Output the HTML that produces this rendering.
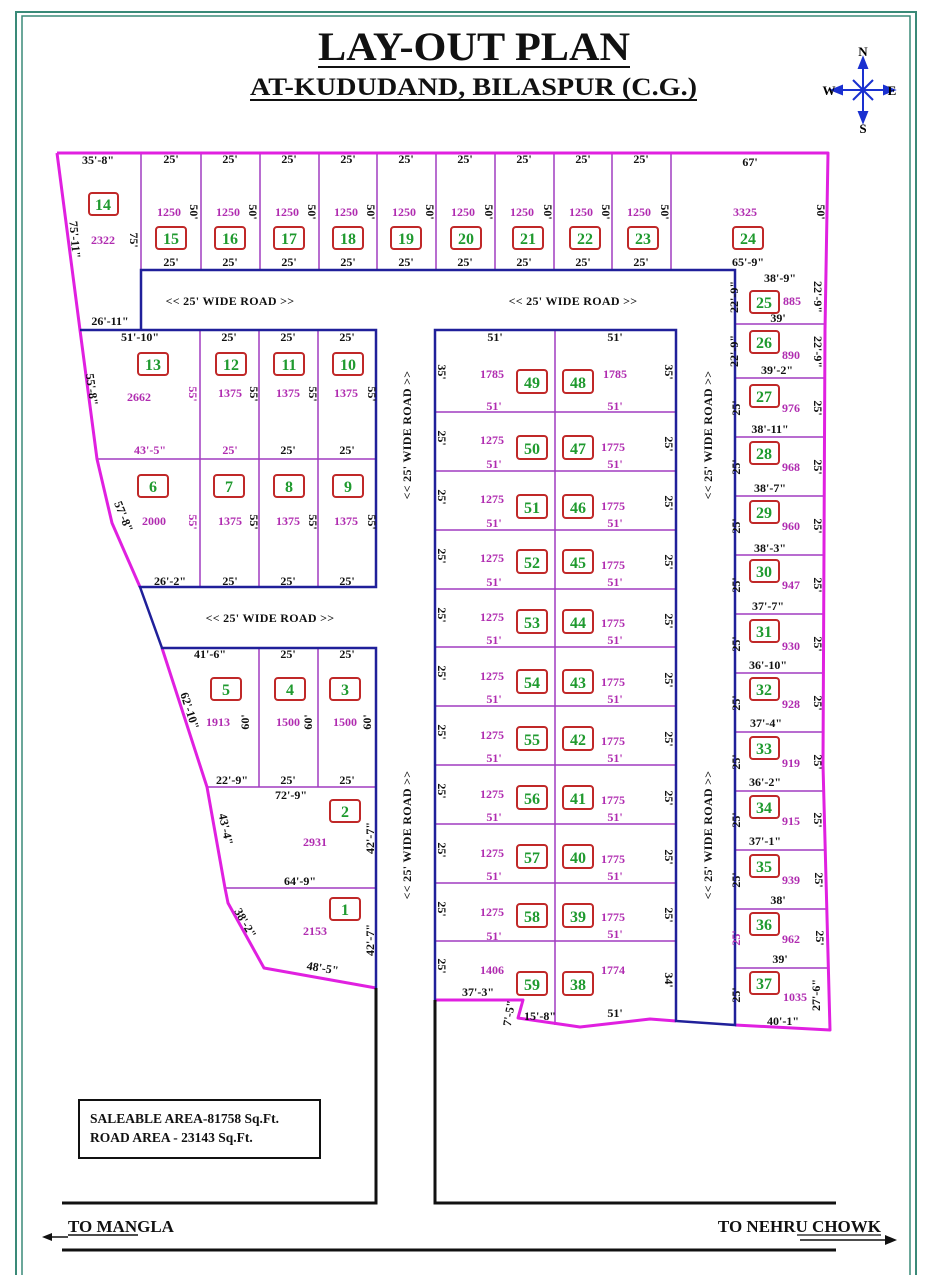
<!DOCTYPE html>
<html><head><meta charset="utf-8"><style>
html,body{margin:0;padding:0;background:#fff}
svg{display:block}
text{font-family:"Liberation Serif",serif;font-weight:bold}
.d{font-size:12px;fill:#111;text-anchor:middle}
.a{font-size:12px;fill:#b02cb0;text-anchor:middle}
.n{font-size:16px;fill:#1f9a2f;text-anchor:middle}
.r{font-size:12px;fill:#111;text-anchor:middle;letter-spacing:0.3px}
.b{fill:#fff;stroke:#c02828;stroke-width:2}
</style></head><body>
<svg width="926" height="1275" viewBox="0 0 926 1275" xmlns="http://www.w3.org/2000/svg">
<!-- border -->
<rect x="16" y="12" width="900" height="1290" fill="none" stroke="#3a8a78" stroke-width="2"/>
<rect x="22" y="16" width="888" height="1280" fill="none" stroke="#3a8a78" stroke-width="1.5"/>

<!-- title -->
<text x="318" y="60" textLength="312" lengthAdjust="spacingAndGlyphs" style="font-size:40px;fill:#111">LAY-OUT PLAN</text>
<line x1="318" y1="67" x2="630" y2="67" stroke="#111" stroke-width="2"/>
<text x="250" y="95" textLength="447" lengthAdjust="spacingAndGlyphs" style="font-size:25px;fill:#111">AT-KUDUDAND, BILASPUR  (C.G.)</text>
<line x1="250" y1="100" x2="697" y2="100" stroke="#111" stroke-width="2"/>

<!-- compass -->
<g stroke="#1a30d0" stroke-width="2" fill="#1a30d0">
<line x1="863" y1="62" x2="863" y2="118"/><line x1="836" y1="90" x2="890" y2="90"/>
<line x1="853" y1="80" x2="873" y2="100"/><line x1="873" y1="80" x2="853" y2="100"/>
<polygon points="863,58 859,68 867,68"/><polygon points="863,122 859,112 867,112"/>
<polygon points="832,90 842,86 842,94"/><polygon points="894,90 884,86 884,94"/>
</g>
<text x="863" y="56" style="font-size:13px;text-anchor:middle">N</text>
<text x="863" y="133" style="font-size:13px;text-anchor:middle">S</text>
<text x="829" y="95" style="font-size:13px;text-anchor:middle">W</text>
<text x="892" y="95" style="font-size:13px;text-anchor:middle">E</text>

<!-- plot dividers (thin purple) -->
<g stroke="#a03cc0" stroke-width="1.5" fill="none">
<line x1="141" y1="153" x2="141" y2="270"/>
<line x1="201" y1="153" x2="201" y2="270"/><line x1="260" y1="153" x2="260" y2="270"/>
<line x1="319" y1="153" x2="319" y2="270"/><line x1="377" y1="153" x2="377" y2="270"/>
<line x1="436" y1="153" x2="436" y2="270"/><line x1="495" y1="153" x2="495" y2="270"/>
<line x1="554" y1="153" x2="554" y2="270"/><line x1="612" y1="153" x2="612" y2="270"/>
<line x1="671" y1="153" x2="671" y2="270"/>
<line x1="80" y1="330" x2="141" y2="330"/>
<line x1="200" y1="330" x2="200" y2="587"/><line x1="259" y1="330" x2="259" y2="587"/><line x1="318" y1="330" x2="318" y2="587"/>
<line x1="97" y1="459" x2="376" y2="459"/>
<line x1="259" y1="648" x2="259" y2="787"/><line x1="318" y1="648" x2="318" y2="787"/>
<line x1="207" y1="787" x2="376" y2="787"/><line x1="225" y1="888" x2="376" y2="888"/>
<line x1="555" y1="330" x2="555" y2="1025"/>
<line x1="435" y1="412" x2="676" y2="412"/><line x1="435" y1="471" x2="676" y2="471"/>
<line x1="435" y1="530" x2="676" y2="530"/><line x1="435" y1="589" x2="676" y2="589"/>
<line x1="435" y1="647" x2="676" y2="647"/><line x1="435" y1="706" x2="676" y2="706"/>
<line x1="435" y1="765" x2="676" y2="765"/><line x1="435" y1="824" x2="676" y2="824"/>
<line x1="435" y1="883" x2="676" y2="883"/><line x1="435" y1="941" x2="676" y2="941"/>
<line x1="735" y1="324" x2="825" y2="324"/><line x1="735" y1="378" x2="825" y2="378"/>
<line x1="735" y1="437" x2="824" y2="437"/><line x1="735" y1="496" x2="824" y2="496"/>
<line x1="735" y1="555" x2="823" y2="555"/><line x1="735" y1="614" x2="823" y2="614"/>
<line x1="735" y1="673" x2="823" y2="673"/><line x1="735" y1="732" x2="823" y2="732"/>
<line x1="735" y1="791" x2="823" y2="791"/><line x1="735" y1="850" x2="825" y2="850"/>
<line x1="735" y1="909" x2="826" y2="909"/><line x1="735" y1="968" x2="828" y2="968"/>
</g>

<!-- magenta boundary -->
<g stroke="#e020e0" stroke-width="3" fill="none" stroke-linejoin="round">
<polyline points="57,153 828,153 825,330 823,765 830,1030 735,1025"/>
<polyline points="57,153 80,330 97,459 112,523 140,587"/>
<polyline points="162,648 207,787 225,888 228,903 264,968 376,988"/>
<polyline points="676,1021 650,1019 580,1027 518,1018 523,1000 435,1000"/>
</g>

<!-- blue road edges -->
<g stroke="#20209a" stroke-width="2.5" fill="none">
<polyline points="141,330 141,270 735,270 735,1025 676,1021 676,330 435,330 435,1000"/>
<polyline points="80,330 376,330 376,587 140,587 162,648 376,648 376,988"/>
</g>
<!-- black road lines -->
<g stroke="#111" stroke-width="3" fill="none">
<polyline points="376,988 376,1203 62,1203"/>
<polyline points="435,1000 435,1203 836,1203"/>
<line x1="62" y1="1250" x2="836" y2="1250"/>
</g>

<!-- road labels -->
<text class="r" x="230" y="305">&lt;&lt; 25' WIDE ROAD &gt;&gt;</text>
<text class="r" x="573" y="305">&lt;&lt; 25' WIDE ROAD &gt;&gt;</text>
<text class="r" x="270" y="622">&lt;&lt; 25' WIDE ROAD &gt;&gt;</text>
<text class="r" transform="translate(411,435) rotate(-90)">&lt;&lt; 25' WIDE ROAD &gt;&gt;</text>
<text class="r" transform="translate(411,835) rotate(-90)">&lt;&lt; 25' WIDE ROAD &gt;&gt;</text>
<text class="r" transform="translate(712,435) rotate(-90)">&lt;&lt; 25' WIDE ROAD &gt;&gt;</text>
<text class="r" transform="translate(712,835) rotate(-90)">&lt;&lt; 25' WIDE ROAD &gt;&gt;</text>

<!-- top row -->
<g>
<text class="d" x="98" y="164">35'-8"</text>
<rect class="b" x="89" y="193" width="29" height="22" rx="3"/><text class="n" x="103" y="210">14</text>
<text class="a" x="103" y="244">2322</text>
<text class="d" transform="translate(130,240) rotate(90)">75'</text>
<text class="d" transform="translate(71,240) rotate(85)">75'-11"</text>
<text class="d" x="110" y="325">26'-11"</text>

<text class="d" x="171" y="163">25'</text><text class="d" x="171" y="266">25'</text><text class="a" x="169" y="216">1250</text><text class="d" transform="translate(190,212) rotate(90)">50'</text><rect class="b" x="156" y="227" width="30" height="22" rx="3"/><text class="n" x="171" y="244">15</text>
<text class="d" x="230" y="163">25'</text><text class="d" x="230" y="266">25'</text><text class="a" x="228" y="216">1250</text><text class="d" transform="translate(249,212) rotate(90)">50'</text><rect class="b" x="215" y="227" width="30" height="22" rx="3"/><text class="n" x="230" y="244">16</text>
<text class="d" x="289" y="163">25'</text><text class="d" x="289" y="266">25'</text><text class="a" x="287" y="216">1250</text><text class="d" transform="translate(308,212) rotate(90)">50'</text><rect class="b" x="274" y="227" width="30" height="22" rx="3"/><text class="n" x="289" y="244">17</text>
<text class="d" x="348" y="163">25'</text><text class="d" x="348" y="266">25'</text><text class="a" x="346" y="216">1250</text><text class="d" transform="translate(367,212) rotate(90)">50'</text><rect class="b" x="333" y="227" width="30" height="22" rx="3"/><text class="n" x="348" y="244">18</text>
<text class="d" x="406" y="163">25'</text><text class="d" x="406" y="266">25'</text><text class="a" x="404" y="216">1250</text><text class="d" transform="translate(426,212) rotate(90)">50'</text><rect class="b" x="391" y="227" width="30" height="22" rx="3"/><text class="n" x="406" y="244">19</text>
<text class="d" x="465" y="163">25'</text><text class="d" x="465" y="266">25'</text><text class="a" x="463" y="216">1250</text><text class="d" transform="translate(485,212) rotate(90)">50'</text><rect class="b" x="451" y="227" width="30" height="22" rx="3"/><text class="n" x="466" y="244">20</text>
<text class="d" x="524" y="163">25'</text><text class="d" x="524" y="266">25'</text><text class="a" x="522" y="216">1250</text><text class="d" transform="translate(544,212) rotate(90)">50'</text><rect class="b" x="513" y="227" width="30" height="22" rx="3"/><text class="n" x="528" y="244">21</text>
<text class="d" x="583" y="163">25'</text><text class="d" x="583" y="266">25'</text><text class="a" x="581" y="216">1250</text><text class="d" transform="translate(602,212) rotate(90)">50'</text><rect class="b" x="570" y="227" width="30" height="22" rx="3"/><text class="n" x="585" y="244">22</text>
<text class="d" x="641" y="163">25'</text><text class="d" x="641" y="266">25'</text><text class="a" x="639" y="216">1250</text><text class="d" transform="translate(661,212) rotate(90)">50'</text><rect class="b" x="628" y="227" width="30" height="22" rx="3"/><text class="n" x="643" y="244">23</text>
<text class="d" x="750" y="166">67'</text><text class="a" x="745" y="216">3325</text><text class="d" transform="translate(817,212) rotate(90)">50'</text><rect class="b" x="733" y="227" width="30" height="22" rx="3"/><text class="n" x="748" y="244">24</text><text class="d" x="748" y="266">65'-9"</text>
</g>

<!-- lower-left block -->
<g>
<text class="d" x="140" y="341">51'-10"</text>
<text class="d" x="229" y="341">25'</text><text class="d" x="288" y="341">25'</text><text class="d" x="347" y="341">25'</text>
<rect class="b" x="138" y="353" width="30" height="22" rx="3"/><text class="n" x="153" y="370">13</text>
<rect class="b" x="216" y="353" width="30" height="22" rx="3"/><text class="n" x="231" y="370">12</text>
<rect class="b" x="274" y="353" width="30" height="22" rx="3"/><text class="n" x="289" y="370">11</text>
<rect class="b" x="333" y="353" width="30" height="22" rx="3"/><text class="n" x="348" y="370">10</text>
<text class="a" x="139" y="401">2662</text><text class="a" transform="translate(189,394) rotate(90)">55'</text>
<text class="a" x="230" y="397">1375</text><text class="d" transform="translate(250,394) rotate(90)">55'</text>
<text class="a" x="288" y="397">1375</text><text class="d" transform="translate(309,394) rotate(90)">55'</text>
<text class="a" x="346" y="397">1375</text><text class="d" transform="translate(368,394) rotate(90)">55'</text>
<text class="d" transform="translate(88,390) rotate(82)">55'-8"</text>
<text class="a" x="150" y="454">43'-5"</text><text class="a" x="230" y="454">25'</text><text class="d" x="288" y="454">25'</text><text class="d" x="347" y="454">25'</text>
<rect class="b" x="138" y="475" width="30" height="22" rx="3"/><text class="n" x="153" y="492">6</text>
<rect class="b" x="214" y="475" width="30" height="22" rx="3"/><text class="n" x="229" y="492">7</text>
<rect class="b" x="274" y="475" width="30" height="22" rx="3"/><text class="n" x="289" y="492">8</text>
<rect class="b" x="333" y="475" width="30" height="22" rx="3"/><text class="n" x="348" y="492">9</text>
<text class="a" x="154" y="525">2000</text><text class="a" transform="translate(189,522) rotate(90)">55'</text>
<text class="a" x="230" y="525">1375</text><text class="d" transform="translate(250,522) rotate(90)">55'</text>
<text class="a" x="288" y="525">1375</text><text class="d" transform="translate(309,522) rotate(90)">55'</text>
<text class="a" x="346" y="525">1375</text><text class="d" transform="translate(368,522) rotate(90)">55'</text>
<text class="d" transform="translate(120,518) rotate(68)">57'-8"</text>
<text class="d" x="170" y="585">26'-2"</text><text class="d" x="230" y="585">25'</text><text class="d" x="288" y="585">25'</text><text class="d" x="347" y="585">25'</text>
</g>

<!-- block 5,4,3,2,1 -->
<g>
<text class="d" x="210" y="658">41'-6"</text><text class="d" x="288" y="658">25'</text><text class="d" x="347" y="658">25'</text>
<rect class="b" x="211" y="678" width="30" height="22" rx="3"/><text class="n" x="226" y="695">5</text>
<rect class="b" x="275" y="678" width="30" height="22" rx="3"/><text class="n" x="290" y="695">4</text>
<rect class="b" x="330" y="678" width="30" height="22" rx="3"/><text class="n" x="345" y="695">3</text>
<text class="a" x="218" y="726">1913</text><text class="d" transform="translate(249,722) rotate(-90)">60'</text>
<text class="a" x="288" y="726">1500</text><text class="d" transform="translate(312,722) rotate(-90)">60'</text>
<text class="a" x="345" y="726">1500</text><text class="d" transform="translate(371,722) rotate(-90)">60'</text>
<text class="d" transform="translate(186,712) rotate(72)">62'-10"</text>
<text class="d" x="232" y="784">22'-9"</text><text class="d" x="288" y="784">25'</text><text class="d" x="347" y="784">25'</text>
<text class="d" x="291" y="799">72'-9"</text>
<rect class="b" x="330" y="800" width="30" height="22" rx="3"/><text class="n" x="345" y="817">2</text>
<text class="a" x="315" y="846">2931</text>
<text class="d" transform="translate(374,838) rotate(-90)">42'-7"</text>
<text class="d" transform="translate(222,830) rotate(78)">43'-4"</text>
<text class="d" x="300" y="885">64'-9"</text>
<rect class="b" x="330" y="898" width="30" height="22" rx="3"/><text class="n" x="345" y="915">1</text>
<text class="a" x="315" y="935">2153</text>
<text class="d" transform="translate(374,940) rotate(-90)">42'-7"</text>
<text class="d" transform="translate(242,925) rotate(60)">38'-2"</text>
<text class="d" transform="translate(322,972) rotate(9)">48'-5"</text>
</g>

<!-- middle block -->
<g>
<text class="d" x="495" y="341">51'</text><text class="d" x="615" y="341">51'</text>
<text class="d" transform="translate(438,372) rotate(90)">35'</text><text class="d" transform="translate(665,372) rotate(90)">35'</text>
<text class="a" x="492" y="378">1785</text><text class="a" x="615" y="378">1785</text>
<rect class="b" x="517" y="370" width="30" height="23" rx="3"/><text class="n" x="532" y="388">49</text>
<rect class="b" x="563" y="370" width="30" height="23" rx="3"/><text class="n" x="578" y="388">48</text>
<text class="a" x="494" y="410">51'</text><text class="a" x="615" y="410">51'</text>

<text class="d" transform="translate(438,438) rotate(90)">25'</text><text class="a" x="492" y="444">1275</text><rect class="b" x="517" y="436" width="30" height="23" rx="3"/><text class="n" x="532" y="454">50</text><rect class="b" x="563" y="436" width="30" height="23" rx="3"/><text class="n" x="578" y="454">47</text><text class="a" x="613" y="451">1775</text><text class="d" transform="translate(665,444) rotate(90)">25'</text><text class="a" x="494" y="468">51'</text><text class="a" x="615" y="468">51'</text>
<text class="d" transform="translate(438,497) rotate(90)">25'</text><text class="a" x="492" y="503">1275</text><rect class="b" x="517" y="495" width="30" height="23" rx="3"/><text class="n" x="532" y="513">51</text><rect class="b" x="563" y="495" width="30" height="23" rx="3"/><text class="n" x="578" y="513">46</text><text class="a" x="613" y="510">1775</text><text class="d" transform="translate(665,503) rotate(90)">25'</text><text class="a" x="494" y="527">51'</text><text class="a" x="615" y="527">51'</text>
<text class="d" transform="translate(438,556) rotate(90)">25'</text><text class="a" x="492" y="562">1275</text><rect class="b" x="517" y="550" width="30" height="23" rx="3"/><text class="n" x="532" y="568">52</text><rect class="b" x="563" y="550" width="30" height="23" rx="3"/><text class="n" x="578" y="568">45</text><text class="a" x="613" y="569">1775</text><text class="d" transform="translate(665,562) rotate(90)">25'</text><text class="a" x="494" y="586">51'</text><text class="a" x="615" y="586">51'</text>
<text class="d" transform="translate(438,615) rotate(90)">25'</text><text class="a" x="492" y="621">1275</text><rect class="b" x="517" y="610" width="30" height="23" rx="3"/><text class="n" x="532" y="628">53</text><rect class="b" x="563" y="610" width="30" height="23" rx="3"/><text class="n" x="578" y="628">44</text><text class="a" x="613" y="627">1775</text><text class="d" transform="translate(665,621) rotate(90)">25'</text><text class="a" x="494" y="644">51'</text><text class="a" x="615" y="644">51'</text>
<text class="d" transform="translate(438,673) rotate(90)">25'</text><text class="a" x="492" y="680">1275</text><rect class="b" x="517" y="670" width="30" height="23" rx="3"/><text class="n" x="532" y="688">54</text><rect class="b" x="563" y="670" width="30" height="23" rx="3"/><text class="n" x="578" y="688">43</text><text class="a" x="613" y="686">1775</text><text class="d" transform="translate(665,680) rotate(90)">25'</text><text class="a" x="494" y="703">51'</text><text class="a" x="615" y="703">51'</text>
<text class="d" transform="translate(438,732) rotate(90)">25'</text><text class="a" x="492" y="739">1275</text><rect class="b" x="517" y="727" width="30" height="23" rx="3"/><text class="n" x="532" y="745">55</text><rect class="b" x="563" y="727" width="30" height="23" rx="3"/><text class="n" x="578" y="745">42</text><text class="a" x="613" y="745">1775</text><text class="d" transform="translate(665,739) rotate(90)">25'</text><text class="a" x="494" y="762">51'</text><text class="a" x="615" y="762">51'</text>
<text class="d" transform="translate(438,791) rotate(90)">25'</text><text class="a" x="492" y="798">1275</text><rect class="b" x="517" y="786" width="30" height="23" rx="3"/><text class="n" x="532" y="804">56</text><rect class="b" x="563" y="786" width="30" height="23" rx="3"/><text class="n" x="578" y="804">41</text><text class="a" x="613" y="804">1775</text><text class="d" transform="translate(665,798) rotate(90)">25'</text><text class="a" x="494" y="821">51'</text><text class="a" x="615" y="821">51'</text>
<text class="d" transform="translate(438,850) rotate(90)">25'</text><text class="a" x="492" y="857">1275</text><rect class="b" x="517" y="845" width="30" height="23" rx="3"/><text class="n" x="532" y="863">57</text><rect class="b" x="563" y="845" width="30" height="23" rx="3"/><text class="n" x="578" y="863">40</text><text class="a" x="613" y="863">1775</text><text class="d" transform="translate(665,857) rotate(90)">25'</text><text class="a" x="494" y="880">51'</text><text class="a" x="615" y="880">51'</text>
<text class="d" transform="translate(438,909) rotate(90)">25'</text><text class="a" x="492" y="916">1275</text><rect class="b" x="517" y="904" width="30" height="23" rx="3"/><text class="n" x="532" y="922">58</text><rect class="b" x="563" y="904" width="30" height="23" rx="3"/><text class="n" x="578" y="922">39</text><text class="a" x="613" y="921">1775</text><text class="d" transform="translate(665,915) rotate(90)">25'</text><text class="a" x="494" y="940">51'</text><text class="a" x="615" y="938">51'</text>
<text class="d" transform="translate(438,966) rotate(90)">25'</text><text class="a" x="492" y="974">1406</text><rect class="b" x="517" y="972" width="30" height="23" rx="3"/><text class="n" x="532" y="990">59</text><rect class="b" x="563" y="972" width="30" height="23" rx="3"/><text class="n" x="578" y="990">38</text><text class="a" x="613" y="974">1774</text><text class="d" transform="translate(665,980) rotate(90)">34'</text>
<text class="d" x="478" y="996">37'-3"</text>
<text class="d" transform="translate(513,1014) rotate(-80)">7'-5"</text>
<text class="d" x="540" y="1020">15'-8"</text>
<text class="d" x="615" y="1017">51'</text>
</g>

<!-- right column -->
<g>
<text class="d" x="780" y="282">38'-9"</text>
<text class="d" transform="translate(738,297) rotate(-90)">22'-9"</text><text class="d" transform="translate(814,297) rotate(90)">22'-9"</text>
<rect class="b" x="750" y="291" width="29" height="22" rx="3"/><text class="n" x="764" y="308">25</text><text class="a" x="792" y="305">885</text>
<text class="d" x="778" y="322">39'</text>
<text class="d" transform="translate(738,351) rotate(-90)">22'-9"</text><text class="d" transform="translate(814,352) rotate(90)">22'-9"</text>
<rect class="b" x="750" y="331" width="29" height="22" rx="3"/><text class="n" x="764" y="348">26</text><text class="a" x="791" y="359">890</text>
<text class="d" x="777" y="374">39'-2"</text>
<text class="d" transform="translate(740,408) rotate(-90)">25'</text><text class="d" transform="translate(814,408) rotate(90)">25'</text><rect class="b" x="750" y="385" width="29" height="22" rx="3"/><text class="n" x="764" y="402">27</text><text class="a" x="791" y="412">976</text>
<text class="d" x="770" y="433">38'-11"</text>
<text class="d" transform="translate(740,467) rotate(-90)">25'</text><text class="d" transform="translate(814,467) rotate(90)">25'</text><rect class="b" x="750" y="442" width="29" height="22" rx="3"/><text class="n" x="764" y="459">28</text><text class="a" x="791" y="471">968</text>
<text class="d" x="770" y="492">38'-7"</text>
<text class="d" transform="translate(740,526) rotate(-90)">25'</text><text class="d" transform="translate(814,526) rotate(90)">25'</text><rect class="b" x="750" y="501" width="29" height="22" rx="3"/><text class="n" x="764" y="518">29</text><text class="a" x="791" y="530">960</text>
<text class="d" x="770" y="552">38'-3"</text>
<text class="d" transform="translate(740,585) rotate(-90)">25'</text><text class="d" transform="translate(814,585) rotate(90)">25'</text><rect class="b" x="750" y="560" width="29" height="22" rx="3"/><text class="n" x="764" y="577">30</text><text class="a" x="791" y="589">947</text>
<text class="d" x="768" y="610">37'-7"</text>
<text class="d" transform="translate(740,644) rotate(-90)">25'</text><text class="d" transform="translate(814,644) rotate(90)">25'</text><rect class="b" x="750" y="620" width="29" height="22" rx="3"/><text class="n" x="764" y="637">31</text><text class="a" x="791" y="650">930</text>
<text class="d" x="768" y="669">36'-10"</text>
<text class="d" transform="translate(740,703) rotate(-90)">25'</text><text class="d" transform="translate(814,703) rotate(90)">25'</text><rect class="b" x="750" y="678" width="29" height="22" rx="3"/><text class="n" x="764" y="695">32</text><text class="a" x="791" y="708">928</text>
<text class="d" x="766" y="727">37'-4"</text>
<text class="d" transform="translate(740,762) rotate(-90)">25'</text><text class="d" transform="translate(814,762) rotate(90)">25'</text><rect class="b" x="750" y="737" width="29" height="22" rx="3"/><text class="n" x="764" y="754">33</text><text class="a" x="791" y="767">919</text>
<text class="d" x="765" y="786">36'-2"</text>
<text class="d" transform="translate(740,820) rotate(-90)">25'</text><text class="d" transform="translate(814,820) rotate(90)">25'</text><rect class="b" x="750" y="796" width="29" height="22" rx="3"/><text class="n" x="764" y="813">34</text><text class="a" x="791" y="825">915</text>
<text class="d" x="765" y="845">37'-1"</text>
<text class="d" transform="translate(740,880) rotate(-90)">25'</text><text class="d" transform="translate(815,880) rotate(90)">25'</text><rect class="b" x="750" y="855" width="29" height="22" rx="3"/><text class="n" x="764" y="872">35</text><text class="a" x="791" y="884">939</text>
<text class="d" x="778" y="904">38'</text>
<text class="a" transform="translate(740,938) rotate(-90)">25'</text><text class="d" transform="translate(816,938) rotate(90)">25'</text><rect class="b" x="750" y="913" width="29" height="22" rx="3"/><text class="n" x="764" y="930">36</text><text class="a" x="791" y="943">962</text>
<text class="d" x="780" y="963">39'</text>
<text class="d" transform="translate(740,995) rotate(-90)">25'</text><text class="d" transform="translate(820,995) rotate(-90)">27'-6"</text><rect class="b" x="750" y="972" width="29" height="22" rx="3"/><text class="n" x="764" y="989">37</text><text class="a" x="795" y="1001">1035</text>
<text class="d" x="783" y="1025">40'-1"</text>
</g>

<!-- area box -->
<rect x="79" y="1100" width="241" height="58" fill="none" stroke="#111" stroke-width="2"/>
<text x="90" y="1123" style="font-size:13.5px;fill:#111">SALEABLE AREA-81758 Sq.Ft.</text>
<text x="90" y="1142" style="font-size:13.5px;fill:#111">ROAD AREA - 23143 Sq.Ft.</text>

<!-- directions -->
<text x="68" y="1232" style="font-size:17px;fill:#111">TO MANGLA</text>
<line x1="68" y1="1235" x2="138" y2="1235" stroke="#111" stroke-width="1.5"/>
<line x1="50" y1="1237" x2="68" y2="1237" stroke="#111" stroke-width="1.5"/>
<polygon points="42,1237 52,1233 52,1241" fill="#111"/>
<text x="881" y="1232" style="font-size:17px;fill:#111;text-anchor:end">TO NEHRU CHOWK</text>
<line x1="797" y1="1235" x2="881" y2="1235" stroke="#111" stroke-width="1.2"/>
<line x1="800" y1="1240" x2="888" y2="1240" stroke="#111" stroke-width="1.5"/>
<polygon points="897,1240 885,1235 885,1245" fill="#111"/>
</svg>
</body></html>
